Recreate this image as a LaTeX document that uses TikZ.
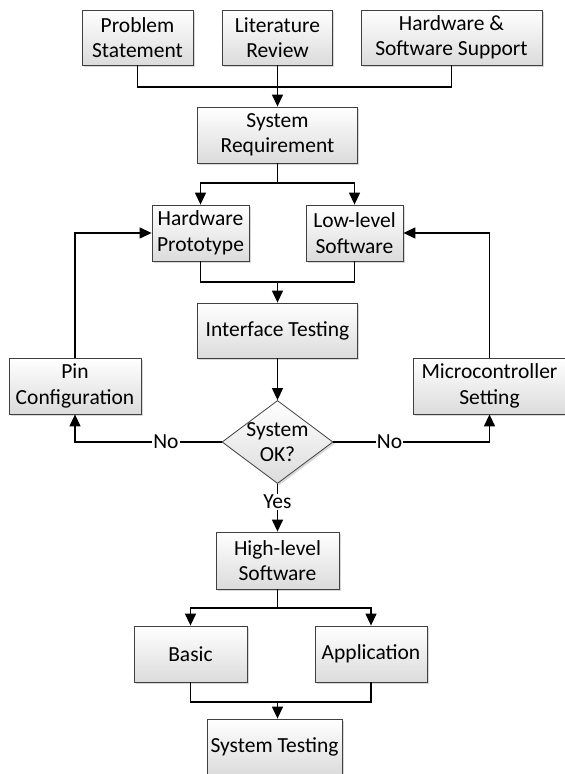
\documentclass[tikz,border=0pt]{standalone}
\usepackage{fontspec}
\setmainfont{Carlito}
\usetikzlibrary{arrows.meta,shapes.geometric,shadows}
\begin{document}
\begin{tikzpicture}[x=1pt,y=1pt,
  font=\fontsize{21.5}{25.5}\selectfont,
  box/.style={draw=black!75, line width=0.8pt, top color=white, bottom color=black!14,
    align=center, inner sep=0pt,
    drop shadow={shadow xshift=1.8pt, shadow yshift=-1.8pt, fill=black!30, opacity=0.5}},
  link/.style={line width=1.3pt, draw=black},
  arrow/.style={link, -{Triangle[length=12pt,width=11pt]}},
  lbl/.style={fill=white, inner sep=1pt}
]
\useasboundingbox (0,0) rectangle (565,774);
\clip (0,0) rectangle (565,774);

% process boxes
\node[box, minimum width=111pt, minimum height=55pt] (ps)  at (137.5,736.5) {Problem\\Statement};
\node[box, minimum width=110pt, minimum height=55pt] (lr)  at (277.5,736.5) {Literature\\Review};
\node[box, minimum width=181pt, minimum height=55pt] (hss) at (451.5,736.5) {Hardware \&\\Software Support};
\node[box, minimum width=160pt, minimum height=56pt] (sr)  at (277.5,639) {System\\Requirement};
\node[box, minimum width=97pt,  minimum height=56pt] (hp)  at (200.5,541) {Hardware\\Prototype};
\node[box, minimum width=97pt,  minimum height=56pt] (ls)  at (354.5,541) {Low-level\\Software};
\node[box, minimum width=160pt, minimum height=55pt] (it)  at (277.5,443.5) {Interface Testing};
\node[box, minimum width=132pt, minimum height=56pt] (pin) at (75,388) {Pin\\Configuration};
\node[box, minimum width=153pt, minimum height=56pt] (ms)  at (489.5,388) {Microcontroller\\Setting};
\node[box, minimum width=123pt, minimum height=57pt] (hls) at (277.5,213.5) {High-level\\Software};
\node[box, minimum width=113pt, minimum height=56pt] (basic) at (190.5,120) {Basic};
\node[box, minimum width=112pt, minimum height=56pt] (app) at (371,120) {Application};
\node[box, minimum width=135pt, minimum height=56pt] (st)  at (274.5,27) {System Testing};

% decision
\node[box, diamond, minimum width=111pt, minimum height=83pt] (dia) at (277.5,332) {};
\node[align=center, inner sep=0pt] (diatext) at (dia) {System\\OK?};

% connectors
\coordinate (j1) at (277.5,687);
\draw[link] (ps.south) |- (j1) -| (hss.south);
\draw[arrow] (lr.south) -- (sr.north);

\coordinate (s1) at (277.5,591);
\draw[link] (sr.south) -- (s1);
\draw[arrow] (s1) -| (hp.north);
\draw[arrow] (s1) -| (ls.north);

\coordinate (j2) at (277.5,492);
\draw[link] (hp.south) |- (j2) -| (ls.south);
\draw[arrow] (j2) -- (it.north);
\draw[arrow] (it.south) -- (dia.north);

\draw[arrow] (dia.west) -| node[lbl, pos=0.19] {No} (pin.south);
\draw[arrow] (dia.east) -| node[lbl, pos=0.18] {No} (ms.south);
\draw[arrow] (pin.north) |- (hp.west);
\draw[arrow] (ms.north) |- (ls.east);

\draw[arrow] (dia.south) -- node[lbl, pos=0.38] {Yes} (hls.north);

\coordinate (s2) at (277.5,166);
\draw[link] (hls.south) -- (s2);
\draw[arrow] (s2) -| (basic.north);
\draw[arrow] (s2) -| (app.north);

\coordinate (j3) at (277.5,72);
\draw[link] (basic.south) |- (j3) -| (app.south);
\draw[arrow] (j3) -- (j3 |- st.north);
\end{tikzpicture}
\end{document}
